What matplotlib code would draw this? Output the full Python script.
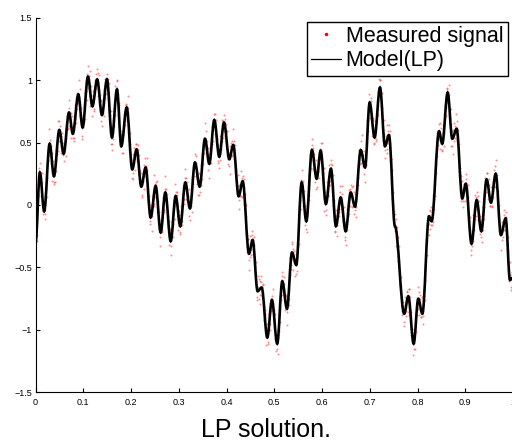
import numpy as np
import matplotlib
matplotlib.use("Agg")
import matplotlib.pyplot as plt
from matplotlib.path import Path
from matplotlib.patches import PathPatch
from matplotlib.lines import Line2D

plt.rcParams["font.family"] = ["Liberation Sans", "DejaVu Sans"]

# Model(LP): turning points of the fitted curve (t, value)
model_t = [
    0.000, 0.009, 0.018, 0.0295, 0.0385, 0.0497, 0.0588, 0.070, 0.078, 0.0895,
    0.0985, 0.1097, 0.119, 0.129, 0.139, 0.1495, 0.160, 0.1705, 0.1795, 0.1908,
    0.2025, 0.2117, 0.2214, 0.2305, 0.241, 0.2515, 0.262, 0.2717, 0.283, 0.2934,
    0.303, 0.3136, 0.3233, 0.3338, 0.3437, 0.3548, 0.3638, 0.3743, 0.3847, 0.3946,
    0.4057, 0.414, 0.4253, 0.4337, 0.447, 0.4546, 0.465, 0.4735, 0.4853, 0.495,
    0.506, 0.5167, 0.5265, 0.537, 0.546, 0.5573, 0.567, 0.5788, 0.5887, 0.597,
    0.608, 0.6186, 0.629, 0.639, 0.6494, 0.660, 0.669, 0.681, 0.690, 0.6997,
    0.710, 0.7213, 0.7317, 0.740, 0.7527, 0.772, 0.7806, 0.7918, 0.8015, 0.810,
    0.824, 0.8295, 0.845, 0.8517, 0.863, 0.8727, 0.8818, 0.8936, 0.901, 0.913,
    0.9238, 0.9335, 0.9447, 0.9537, 0.9636, 0.9746, 0.9845, 0.9935, 1.000,
]
model_v = [
    -0.30, 0.26, -0.05, 0.49, 0.23, 0.60, 0.41, 0.74, 0.57, 0.885,
    0.62, 1.027, 0.79, 1.005, 0.72, 1.005, 0.54, 0.925, 0.47, 0.78,
    0.285, 0.445, 0.147, 0.30, -0.10, 0.152, -0.22, 0.10, -0.29, 0.072,
    -0.17, 0.18, -0.027, 0.34, 0.147, 0.53, 0.33, 0.68, 0.386, 0.66,
    0.366, 0.48, 0.07, 0.19, -0.39, -0.28, -0.69, -0.66, -1.06, -0.76,
    -1.11, -0.61, -0.83, -0.38, -0.48, 0.18, -0.13, 0.44, 0.21, 0.435,
    0.008, 0.29, -0.17, 0.06, -0.21, 0.10, -0.013, 0.44, 0.30, 0.82,
    0.54, 0.94, 0.47, 0.56, -0.17, -0.87, -0.73, -1.11, -0.75, -0.87,
    -0.09, -0.13, 0.59, 0.49, 0.90, 0.53, 0.61, 0.053, 0.17, -0.31,
    0.04, -0.21, 0.205, 0.019, 0.25, -0.24, -0.107, -0.60, -0.58,
]

# Measured signal, samples at t = 0, 0.002, ..., 1
measured_v = [
    -0.26, -0.29, 0.01, 0.09, 0.30, 0.16, 0.21, 0.18, -0.05, 0.02,
    -0.07, 0.15, 0.22, 0.47, 0.40, 0.52, 0.34, 0.42, 0.29, 0.18,
    0.33, 0.27, 0.46, 0.43, 0.60, 0.67, 0.51, 0.55, 0.43, 0.50,
    0.35, 0.52, 0.53, 0.71, 0.62, 0.78, 0.67, 0.74, 0.58, 0.63,
    0.51, 0.69, 0.81, 0.77, 0.89, 0.82, 0.93, 0.72, 0.72, 0.55,
    0.70, 0.67, 0.90, 0.91, 1.05, 0.94, 1.03, 0.87, 0.95, 0.79,
    0.87, 0.77, 0.93, 1.05, 0.96, 1.06, 0.87, 0.88, 0.83, 0.67,
    0.77, 0.74, 0.93, 0.86, 1.02, 0.95, 1.01, 0.80, 0.75, 0.49,
    0.59, 0.53, 0.75, 0.72, 0.89, 0.99, 0.82, 0.82, 0.59, 0.56,
    0.42, 0.59, 0.56, 0.71, 0.67, 0.81, 0.73, 0.78, 0.52, 0.49,
    0.31, 0.36, 0.21, 0.39, 0.37, 0.49, 0.39, 0.44, 0.40, 0.17,
    0.20, 0.06, 0.24, 0.19, 0.32, 0.23, 0.31, 0.28, 0.04, 0.00,
    -0.15, -0.02, -0.09, 0.07, 0.01, 0.17, 0.13, 0.19, -0.04, -0.06,
    -0.26, -0.16, -0.22, -0.03, -0.06, 0.13, 0.06, 0.13, -0.04, -0.09,
    -0.32, -0.22, -0.33, -0.14, -0.15, 0.04, -0.01, 0.10, 0.10, -0.09,
    -0.08, -0.22, -0.08, -0.13, 0.04, 0.01, 0.22, 0.15, 0.22, 0.04,
    0.07, -0.09, 0.03, -0.01, 0.21, 0.17, 0.34, 0.32, 0.39, 0.22,
    0.25, 0.08, 0.21, 0.16, 0.36, 0.33, 0.49, 0.47, 0.59, 0.43,
    0.46, 0.28, 0.41, 0.34, 0.50, 0.49, 0.68, 0.66, 0.73, 0.55,
    0.54, 0.35, 0.45, 0.36, 0.55, 0.51, 0.67, 0.59, 0.69, 0.58,
    0.59, 0.39, 0.41, 0.31, 0.47, 0.40, 0.51, 0.40, 0.51, 0.33,
    0.29, 0.09, 0.15, 0.04, 0.15, 0.07, 0.22, 0.17, 0.21, 0.00,
    0.00, -0.24, -0.27, -0.44, -0.35, -0.42, -0.28, -0.21, -0.35, -0.32,
    -0.54, -0.56, -0.76, -0.66, -0.59, -0.72, -0.62, -0.72, -0.63, -0.82,
    -0.84, -1.06, -1.01, -1.11, -0.93, -0.95, -0.77, -0.85, -0.73, -0.84,
    -0.84, -1.07, -1.05, -1.15, -1.01, -1.01, -0.73, -0.72, -0.57, -0.69,
    -0.63, -0.78, -0.73, -0.86, -0.75, -0.80, -0.56, -0.51, -0.31, -0.43,
    -0.35, -0.46, -0.43, -0.55, -0.38, -0.33, -0.04, -0.01, 0.20, 0.13,
    0.19, -0.01, -0.01, -0.19, -0.09, 0.04, 0.04, 0.28, 0.30, 0.48,
    0.40, 0.46, 0.27, 0.29, 0.13, 0.28, 0.27, 0.42, 0.37, 0.50,
    0.32, 0.30, 0.06, 0.07, -0.04, 0.11, 0.07, 0.23, 0.19, 0.33,
    0.19, 0.24, 0.02, -0.03, -0.22, -0.09, -0.16, -0.03, -0.06, 0.10,
    0.01, 0.09, -0.12, -0.11, -0.26, -0.14, -0.20, -0.04, -0.07, 0.13,
    0.06, 0.14, -0.01, 0.10, -0.04, 0.05, -0.02, 0.20, 0.22, 0.43,
    0.40, 0.51, 0.36, 0.40, 0.25, 0.35, 0.32, 0.57, 0.59, 0.82,
    0.77, 0.86, 0.69, 0.68, 0.50, 0.58, 0.51, 0.73, 0.74, 0.91,
    0.89, 1.00, 0.80, 0.78, 0.55, 0.57, 0.44, 0.55, 0.45, 0.59,
    0.51, 0.59, 0.37, 0.28, -0.01, -0.05, -0.21, -0.11, -0.27, -0.26,
    -0.45, -0.45, -0.64, -0.65, -0.85, -0.81, -0.94, -0.80, -0.85, -0.70,
    -0.78, -0.67, -0.84, -0.86, -1.09, -1.05, -1.15, -1.00, -1.02, -0.82,
    -0.83, -0.70, -0.80, -0.75, -0.90, -0.83, -0.89, -0.67, -0.60, -0.32,
    -0.29, -0.09, -0.15, -0.05, -0.16, -0.06, -0.14, 0.05, 0.07, 0.33,
    0.39, 0.59, 0.53, 0.66, 0.51, 0.54, 0.43, 0.58, 0.58, 0.79,
    0.78, 0.93, 0.82, 0.88, 0.68, 0.65, 0.47, 0.60, 0.51, 0.63,
    0.57, 0.67, 0.51, 0.49, 0.24, 0.23, 0.05, 0.12, 0.03, 0.17,
    0.11, 0.21, 0.07, 0.06, -0.18, -0.20, -0.36, -0.25, -0.29, -0.09,
    -0.11, 0.06, -0.03, 0.07, -0.09, -0.09, -0.26, -0.14, -0.20, -0.02,
    -0.02, 0.19, 0.17, 0.26, 0.10, 0.16, -0.01, 0.07, -0.01, 0.15,
    0.15, 0.31, 0.20, 0.24, 0.02, 0.00, -0.21, -0.18, -0.28, -0.14,
    -0.20, -0.08, -0.17, -0.10, -0.32, -0.37, -0.61, -0.55, -0.66, -0.56,
    -0.54,
]
# Measured signal, in-between samples at t = 0.001, 0.003, ..., 0.999
measured_v_mid = [
    -0.16, -0.24, 0.09, 0.07, 0.34, 0.17, 0.26, -0.07, -0.01, -0.11,
    0.13, 0.06, 0.36, 0.35, 0.61, 0.43, 0.47, 0.19, 0.35, 0.17,
    0.18, 0.44, 0.41, 0.67, 0.51, 0.63, 0.42, 0.58, 0.40, 0.48,
    0.51, 0.39, 0.69, 0.61, 0.84, 0.63, 0.74, 0.54, 0.71, 0.54,
    0.54, 0.80, 0.66, 0.90, 0.82, 1.00, 0.71, 0.78, 0.53, 0.70,
    0.79, 0.69, 0.91, 0.84, 1.11, 0.96, 1.07, 0.79, 0.88, 0.71,
    0.91, 0.75, 1.00, 0.94, 1.09, 0.87, 1.04, 0.76, 0.84, 0.63,
    0.82, 0.71, 1.01, 0.89, 1.05, 0.85, 0.98, 0.72, 0.75, 0.49,
    0.44, 0.68, 0.63, 0.95, 0.85, 1.00, 0.72, 0.80, 0.49, 0.57,
    0.57, 0.42, 0.73, 0.64, 0.80, 0.69, 0.87, 0.54, 0.58, 0.34,
    0.22, 0.41, 0.26, 0.46, 0.28, 0.49, 0.35, 0.48, 0.24, 0.27,
    0.26, 0.08, 0.26, 0.13, 0.38, 0.25, 0.38, 0.05, 0.07, -0.13,
    0.00, -0.21, 0.05, -0.01, 0.24, 0.06, 0.18, -0.06, 0.03, -0.19,
    -0.33, -0.12, -0.20, 0.06, -0.04, 0.23, 0.03, 0.09, -0.18, -0.13,
    -0.19, -0.40, -0.14, -0.26, -0.03, -0.11, 0.17, 0.01, 0.08, -0.20,
    -0.05, -0.23, -0.01, -0.16, 0.09, 0.05, 0.29, 0.05, 0.18, 0.02,
    0.13, -0.12, 0.07, -0.06, 0.28, 0.23, 0.41, 0.23, 0.34, 0.17,
    0.08, 0.26, 0.10, 0.32, 0.21, 0.48, 0.42, 0.66, 0.46, 0.51,
    0.46, 0.22, 0.45, 0.34, 0.63, 0.51, 0.73, 0.57, 0.68, 0.48,
    0.34, 0.48, 0.30, 0.55, 0.45, 0.68, 0.54, 0.72, 0.55, 0.65,
    0.59, 0.33, 0.42, 0.25, 0.50, 0.39, 0.61, 0.37, 0.48, 0.27,
    0.13, 0.24, -0.03, 0.16, 0.07, 0.27, 0.06, 0.23, 0.01, 0.09,
    -0.09, -0.38, -0.27, -0.52, -0.25, -0.40, -0.24, -0.39, -0.26, -0.50,
    -0.46, -0.74, -0.57, -0.75, -0.61, -0.79, -0.57, -0.73, -0.64, -0.92,
    -0.87, -1.12, -0.95, -1.10, -0.87, -1.00, -0.75, -0.84, -0.67, -0.91,
    -0.87, -1.17, -1.04, -1.19, -0.88, -0.94, -0.65, -0.76, -0.54, -0.72,
    -0.58, -0.84, -0.72, -0.96, -0.71, -0.75, -0.42, -0.48, -0.30, -0.52,
    -0.37, -0.57, -0.39, -0.53, -0.25, -0.31, 0.04, -0.03, 0.28, 0.10,
    -0.01, 0.11, -0.16, -0.03, -0.22, 0.09, 0.08, 0.41, 0.36, 0.53,
    0.29, 0.41, 0.18, 0.36, 0.14, 0.35, 0.22, 0.45, 0.36, 0.50,
    0.26, 0.30, -0.05, 0.10, -0.08, 0.18, 0.08, 0.32, 0.16, 0.36,
    0.32, -0.01, 0.04, -0.21, -0.04, -0.25, -0.04, -0.09, 0.15, -0.03,
    0.15, -0.09, -0.02, -0.28, -0.14, -0.32, -0.03, -0.09, 0.12, -0.01,
    0.16, -0.02, 0.15, -0.07, 0.09, -0.10, 0.18, 0.16, 0.44, 0.33,
    0.34, 0.56, 0.31, 0.43, 0.18, 0.38, 0.33, 0.68, 0.68, 0.89,
    0.70, 0.83, 0.55, 0.70, 0.49, 0.67, 0.53, 0.76, 0.72, 1.01,
    1.00, 0.79, 0.90, 0.60, 0.68, 0.38, 0.53, 0.42, 0.64, 0.50,
    0.64, 0.35, 0.37, 0.05, 0.10, -0.18, -0.07, -0.33, -0.18, -0.42,
    -0.33, -0.63, -0.58, -0.88, -0.78, -0.97, -0.74, -0.89, -0.69, -0.86,
    -0.67, -0.88, -0.74, -1.04, -0.99, -1.20, -0.99, -1.15, -0.87, -0.88,
    -0.66, -0.88, -0.72, -0.90, -0.74, -0.95, -0.73, -0.76, -0.41, -0.40,
    -0.09, -0.24, -0.04, -0.19, -0.02, -0.16, 0.08, -0.03, 0.28, 0.26,
    0.58, 0.48, 0.65, 0.45, 0.62, 0.44, 0.64, 0.47, 0.72, 0.71,
    0.94, 0.79, 0.96, 0.70, 0.77, 0.47, 0.59, 0.41, 0.66, 0.54,
    0.73, 0.52, 0.60, 0.27, 0.30, 0.03, 0.19, -0.02, 0.16, 0.03,
    0.25, 0.03, 0.16, -0.13, -0.10, -0.40, -0.24, -0.33, -0.08, -0.20,
    0.08, -0.09, 0.10, -0.12, 0.03, -0.23, -0.13, -0.30, -0.07, -0.11,
    0.22, 0.10, 0.26, 0.05, 0.21, -0.01, 0.14, -0.02, 0.18, 0.06,
    0.28, 0.14, 0.36, 0.08, 0.11, -0.21, -0.16, -0.36, -0.14, -0.26,
    -0.04, -0.20, -0.06, -0.32, -0.26, -0.58, -0.46, -0.68, -0.54, -0.68,
]
# uniform sample instants of the two sweeps
measured_t = np.linspace(0.0, 1.0, len(measured_v))
measured_t_mid = np.linspace(0.001, 0.999, len(measured_v_mid))

xticks = [0, 0.1, 0.2, 0.3, 0.4, 0.5, 0.6, 0.7, 0.8, 0.9, 1]
xtick_labels = ["0", "0.1", "0.2", "0.3", "0.4", "0.5", "0.6", "0.7", "0.8", "0.9", "1"]
yticks = [-1.5, -1, -0.5, 0, 0.5, 1, 1.5]
ytick_labels = ["\u22121.5", "\u22121", "\u22120.5", "0", "0.5", "1", "1.5"]


def smooth_path(t, v, k=0.36):
    """Cubic Bezier path through turning points, flat tangent at each knot."""
    verts = [(t[0], v[0])]
    codes = [Path.MOVETO]
    for i in range(len(t) - 1):
        dt = t[i + 1] - t[i]
        verts += [(t[i] + k * dt, v[i]), (t[i + 1] - k * dt, v[i + 1]), (t[i + 1], v[i + 1])]
        codes += [Path.CURVE4] * 3
    return Path(verts, codes)


fig = plt.figure(figsize=(5.12, 4.41), dpi=100)
ax = fig.add_axes([0.0695, 0.110, 0.9326, 0.8503])

all_t = np.concatenate([measured_t, measured_t_mid])
all_v = np.concatenate([measured_v, measured_v_mid])
ax.plot(all_t, all_v, ls="none", marker="o", ms=1.45, mec="none",
        mfc="#ff3030", alpha=0.55, zorder=2)
ax.add_patch(PathPatch(smooth_path(model_t, model_v), fill=False,
                       edgecolor="black", lw=1.9, zorder=3))

ax.set_xlim(0, 1)
ax.set_ylim(-1.5, 1.5)
ax.set_xticks(xticks)
ax.set_xticklabels(xtick_labels)
ax.set_yticks(yticks)
ax.set_yticklabels(ytick_labels)
ax.tick_params(direction="in", length=3, width=0.8, labelsize=6.5, colors="black")
ax.tick_params(axis="x", pad=4)
ax.tick_params(axis="y", pad=2.5)
for side in ("top", "right"):
    ax.spines[side].set_visible(False)
for side in ("left", "bottom"):
    ax.spines[side].set_linewidth(0.8)

handles = [
    Line2D([], [], ls="none", marker=".", ms=3, color="red"),
    Line2D([], [], color="black", lw=0.9),
]
leg = ax.legend(handles, ["Measured signal", "Model(LP)"], loc="upper right",
                bbox_to_anchor=(0.9887, 0.9888), borderaxespad=0, fontsize=15.5,
                frameon=True, fancybox=False, edgecolor="black", framealpha=1,
                handlelength=1.4, handletextpad=0.2, labelspacing=0.15,
                borderpad=0.2, numpoints=1)
leg.get_frame().set_linewidth(1.0)

fig.text(0.52, 0.0084, "LP solution.", ha="center", va="baseline", fontsize=18)

fig.savefig("out.png", dpi=100)
